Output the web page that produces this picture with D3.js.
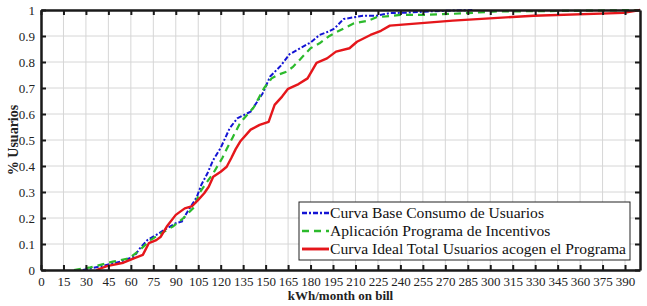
<!DOCTYPE html>
<html>
<head>
<meta charset="utf-8">
<script src="https://cdn.jsdelivr.net/npm/d3@7"></script>
<style>
  body { margin: 0; background: #fff; }
  text { font-family: "Liberation Serif", "Times New Roman", serif; }
</style>
</head>
<body>
<div id="chart"></div>
<script>
// series (kWh/month, cumulative share of users)
var baseX = [28, 39, 53, 62, 66, 71, 77, 84, 90, 94, 98, 104, 107, 111, 115, 120, 126, 131, 140, 148, 153, 160, 166, 173, 180, 186, 192, 196, 202, 215, 224, 233, 245, 260, 288];
var baseY = [0, 0.013, 0.032, 0.051, 0.083, 0.115, 0.135, 0.16, 0.18, 0.186, 0.226, 0.28, 0.327, 0.37, 0.423, 0.47, 0.545, 0.583, 0.609, 0.679, 0.744, 0.785, 0.83, 0.853, 0.875, 0.904, 0.917, 0.929, 0.965, 0.978, 0.978, 0.988, 0.99, 0.995, 1.0];

var incX = [22, 33, 48, 59, 66, 73, 82, 88, 95, 102, 106, 111, 115, 121, 124, 128, 133, 142, 149, 154, 158, 164, 168, 173, 180, 186, 192, 198, 209, 218, 224, 240, 255, 282, 302, 320, 360, 399];
var incY = [0, 0.01, 0.032, 0.045, 0.077, 0.115, 0.147, 0.167, 0.199, 0.24, 0.298, 0.34, 0.372, 0.43, 0.465, 0.51, 0.566, 0.625, 0.7, 0.737, 0.75, 0.763, 0.78, 0.81, 0.853, 0.872, 0.898, 0.917, 0.949, 0.958, 0.972, 0.981, 0.981, 0.987, 0.994, 0.995, 0.997, 1.0];

var idealX = [37, 44, 55, 62, 68, 72, 77, 80, 84, 90, 96, 101, 105, 109, 112, 115, 120, 124, 127, 130, 133, 140, 146, 152, 156, 161, 165, 172, 178, 184, 191, 197, 206, 211, 220, 227, 233, 275, 329, 389, 400];
var idealY = [0, 0.015, 0.028, 0.045, 0.058, 0.103, 0.115, 0.128, 0.167, 0.212, 0.237, 0.246, 0.27, 0.295, 0.32, 0.359, 0.378, 0.397, 0.43, 0.465, 0.494, 0.54, 0.558, 0.57, 0.635, 0.667, 0.697, 0.715, 0.737, 0.797, 0.814, 0.84, 0.853, 0.878, 0.904, 0.92, 0.94, 0.959, 0.978, 0.989, 1.0];

var xTicks = d3.range(0, 391, 15);
var yTicks = [0, 0.1, 0.2, 0.3, 0.4, 0.5, 0.6, 0.7, 0.8, 0.9, 1];

var seriesNames = [
  "Curva Base Consumo de Usuarios",
  "Aplicación Programa de Incentivos",
  "Curva Ideal Total Usuarios acogen el Programa"
];

var series = [
  { name: seriesNames[0], xs: baseX, ys: baseY, color: "#1414d4", width: 2, dash: "5,2,2,2" },
  { name: seriesNames[1], xs: incX, ys: incY, color: "#2cba2c", width: 2.2, dash: "7,5" },
  { name: seriesNames[2], xs: idealX, ys: idealY, color: "#e5161b", width: 2.4, dash: null }
];

var svgWidth = 647, svgHeight = 306;
var margin = { top: 10, right: 7, bottom: 36, left: 41 };
var width = svgWidth - margin.left - margin.right;
var height = svgHeight - margin.top - margin.bottom;

var svg = d3.select("#chart").append("svg")
  .attr("width", svgWidth)
  .attr("height", svgHeight);

var g = svg.append("g")
  .attr("transform", "translate(" + margin.left + "," + margin.top + ")");

var xScale = d3.scaleLinear().domain([0, 400]).range([0, width]);
var yScale = d3.scaleLinear().domain([0, 1]).range([height, 0]);

// grid
g.append("g").selectAll("line").data(xTicks).join("line")
  .attr("x1", d => xScale(d)).attr("x2", d => xScale(d))
  .attr("y1", 0).attr("y2", height)
  .attr("stroke", "#d6d6d6").attr("stroke-width", 1);
g.append("g").selectAll("line").data(yTicks).join("line")
  .attr("x1", 0).attr("x2", width)
  .attr("y1", d => yScale(d)).attr("y2", d => yScale(d))
  .attr("stroke", "#d6d6d6").attr("stroke-width", 1);

// curves
var line = d3.line()
  .x(d => xScale(d[0]))
  .y(d => yScale(d[1]));

series.forEach(function (s) {
  var pts = s.xs.map((x, i) => [x, s.ys[i]]);
  var p = g.append("path")
    .datum(pts)
    .attr("d", line)
    .attr("fill", "none")
    .attr("stroke", s.color)
    .attr("stroke-width", s.width)
    .attr("stroke-linejoin", "round");
  if (s.dash) p.attr("stroke-dasharray", s.dash);
});

// axes
var xAxis = d3.axisBottom(xScale).tickValues(xTicks).tickSizeInner(-5).tickSizeOuter(0).tickPadding(7);
var yAxis = d3.axisLeft(yScale).tickValues(yTicks).tickSizeInner(-5).tickSizeOuter(0).tickPadding(6)
  .tickFormat(d => d === 0 || d === 1 ? d3.format("d")(d) : d3.format(".1f")(d));

function styleAxis(sel) {
  sel.select(".domain").attr("stroke", "#1a1a1a").attr("stroke-width", 2.5);
  sel.selectAll(".tick line").attr("stroke", "#1a1a1a").attr("stroke-width", 2);
  sel.selectAll(".tick text")
    .attr("fill", "#222")
    .style("font-size", "13px")
    .style("font-family", "'Liberation Serif', serif");
}

g.append("g").attr("transform", "translate(0," + height + ")").call(xAxis).call(styleAxis);
g.append("g").call(yAxis).call(styleAxis);

g.append("g").call(d3.axisTop(xScale).tickValues(xTicks).tickSizeInner(-5).tickSizeOuter(0).tickFormat(""))
  .call(styleAxis);
g.append("g").attr("transform", "translate(" + width + ",0)")
  .call(d3.axisRight(yScale).tickValues(yTicks).tickSizeInner(-5).tickSizeOuter(0).tickFormat(""))
  .call(styleAxis);

// axis titles
svg.append("text")
  .attr("x", margin.left + width / 2)
  .attr("y", 300)
  .attr("text-anchor", "middle")
  .style("font-size", "13px")
  .style("font-weight", "bold")
  .attr("fill", "#222")
  .text("kWh/month on bill");

svg.append("text")
  .attr("transform", "translate(18," + (margin.top + height / 2) + ") rotate(-90)")
  .attr("text-anchor", "middle")
  .style("font-size", "14px")
  .style("font-weight", "bold")
  .attr("fill", "#222")
  .text("% Usuarios");

// legend
var legend = svg.append("g").attr("transform", "translate(299,202)");
legend.append("rect")
  .attr("width", 331).attr("height", 58)
  .attr("fill", "#fff").attr("stroke", "#222").attr("stroke-width", 1);

series.forEach(function (s, i) {
  var yy = 11 + i * 18;
  var l = legend.append("line")
    .attr("x1", 3).attr("x2", 30)
    .attr("y1", yy).attr("y2", yy)
    .attr("stroke", s.color)
    .attr("stroke-width", s.width + 0.5);
  if (s.dash) l.attr("stroke-dasharray", s.dash);
  legend.append("text")
    .attr("x", 31).attr("y", yy + 5)
    .attr("textLength", i === 2 ? 296 : null)
    .style("font-size", "15.6px")
    .attr("fill", "#111")
    .text(s.name);
});
</script>
</body>
</html>
